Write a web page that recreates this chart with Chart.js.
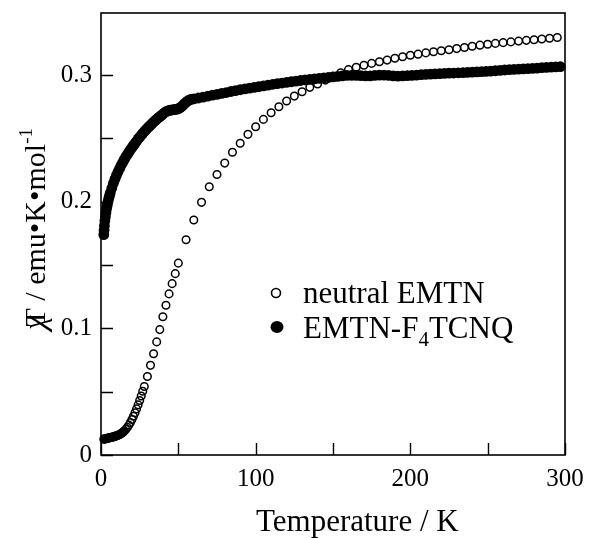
<!DOCTYPE html>
<html>
<head>
<meta charset="utf-8">
<script src="https://cdn.jsdelivr.net/npm/chart.js@4/dist/chart.umd.min.js"></script>
<style>
  html, body { margin: 0; padding: 0; background: #fff; }
  #wrap { width: 589px; height: 538px; }
</style>
</head>
<body>
<div id="wrap"><canvas id="c" width="589" height="538"></canvas></div>
<script>
// Temperature dependence of chi*T for neutral EMTN and its F4TCNQ complex

const seriesNames = ['neutral EMTN', 'EMTN-F4TCNQ'];

// neutral EMTN: temperature (K)
const neutralT = [
  1.8, 2.2, 2.6, 3, 3.5, 4, 4.5, 5, 5.5, 6, 6.5, 7, 7.5, 8, 8.5, 9, 9.5, 10,
  10.5, 11, 11.5, 12, 12.5, 13, 13.5, 14, 14.5, 15, 16, 17, 18, 19, 20, 21, 22,
  23, 24, 25, 26, 27, 28, 30, 32, 34, 36, 38, 40, 42, 44, 46, 48, 50,
  55, 60, 65, 70, 75, 80, 85, 90, 95, 100, 105, 110, 115, 120, 125, 130, 135,
  140, 145, 150, 155, 160, 165, 170, 175, 180, 185, 190, 195, 200, 205, 210,
  215, 220, 225, 230, 235, 240, 245, 250, 255, 260, 265, 270, 275, 280, 285,
  290, 295
];
// neutral EMTN: chi*T (emu K mol^-1)
const neutralChiT = [
  0.0125, 0.0126, 0.0127, 0.0128, 0.0130, 0.0131, 0.0133, 0.0134, 0.0136, 0.0137,
  0.0139, 0.0140, 0.0142, 0.0143, 0.0145, 0.0147, 0.0149, 0.0151, 0.0153, 0.0156,
  0.0159, 0.0162, 0.0165, 0.0169, 0.0173, 0.0178, 0.0183, 0.0189, 0.0202, 0.0218,
  0.0236, 0.0257, 0.0280, 0.0306, 0.0334, 0.0364, 0.0396, 0.0430, 0.0466, 0.0503,
  0.0541, 0.0620, 0.0708, 0.0800, 0.0893, 0.0990, 0.1092, 0.1182, 0.1272, 0.1353,
  0.1432, 0.1515,
  0.1700, 0.1855, 0.1995, 0.2118, 0.2215, 0.2305, 0.2390, 0.2462, 0.2532, 0.2592,
  0.2650, 0.2702, 0.2750, 0.2795, 0.2834, 0.2868, 0.2903, 0.2930, 0.2960, 0.2990,
  0.3018, 0.3043, 0.3062, 0.3078, 0.3092, 0.3105, 0.3118, 0.3133, 0.3145, 0.3156,
  0.3165, 0.3175, 0.3184, 0.3192, 0.3200, 0.3209, 0.3218, 0.3227, 0.3236, 0.3243,
  0.3250, 0.3256, 0.3262, 0.3268, 0.3274, 0.3279, 0.3285, 0.3291, 0.3297
];

// EMTN-F4TCNQ: temperature (K)
const saltT = [
  1.8, 2.0, 2.2, 2.5, 2.8, 3.2, 3.6, 4.0, 4.5, 5, 5.5, 6, 7, 8, 9, 10, 11, 12,
  13, 14, 15, 16, 17, 18, 19, 20, 21, 22, 23, 24, 25, 26, 27, 28, 29, 30, 31,
  32, 33, 34, 35, 36, 37, 38, 39, 40, 41, 42, 43, 44, 45, 46, 47, 48, 49, 50,
  51, 52, 53, 54, 55, 56, 57, 58,
  60, 63, 66, 69, 72, 75, 78, 81, 84, 87, 90, 93, 96, 99, 102, 105, 108, 111,
  114, 117, 120, 123, 126, 129, 132, 135, 138, 141, 144, 147, 150, 153, 156,
  159, 162, 165, 168, 171, 174, 177, 180, 183, 186, 189, 192, 195, 198, 201,
  204, 207, 210, 213, 216, 219, 222, 225, 228, 231, 234, 237, 240, 243, 246,
  249, 252, 255, 258, 261, 264, 267, 270, 273, 276, 279, 282, 285, 288, 291,
  294, 297
];
// EMTN-F4TCNQ: chi*T (emu K mol^-1)
const saltChiT = [
  0.1740, 0.1775, 0.1810, 0.1850, 0.1880, 0.1915, 0.1945, 0.1970, 0.2000, 0.2025,
  0.2048, 0.2070, 0.2108, 0.2145, 0.2178, 0.2208, 0.2236, 0.2262, 0.2287, 0.2310,
  0.2332, 0.2353, 0.2373, 0.2392, 0.2410, 0.2428, 0.2445, 0.2461, 0.2477, 0.2495,
  0.2510, 0.2525, 0.2540, 0.2554, 0.2567, 0.2580, 0.2593, 0.2605, 0.2617, 0.2629,
  0.2640, 0.2651, 0.2662, 0.2672, 0.2682, 0.2692, 0.2702, 0.2711, 0.2716, 0.2720,
  0.2723, 0.2725, 0.2727, 0.2729, 0.2731, 0.2734, 0.2740, 0.2750, 0.2762, 0.2774,
  0.2785, 0.2795, 0.2802, 0.2807,
  0.2812, 0.2819, 0.2826, 0.2833, 0.2841, 0.2848, 0.2855, 0.2862, 0.2870, 0.2877,
  0.2884, 0.2891, 0.2897, 0.2903, 0.2909, 0.2915, 0.2921, 0.2927, 0.2932, 0.2937,
  0.2942, 0.2947, 0.2952, 0.2957, 0.2962, 0.2966, 0.2970, 0.2974, 0.2978, 0.2982,
  0.2986, 0.2990, 0.2994, 0.2997, 0.2998, 0.2997, 0.2995, 0.2993, 0.2994, 0.2997,
  0.3000, 0.3000, 0.2997, 0.2994, 0.2992, 0.2993, 0.2995, 0.2997, 0.3000, 0.3003,
  0.3005, 0.3007, 0.3009, 0.3011, 0.3013, 0.3015, 0.3016, 0.3018, 0.3019, 0.3021,
  0.3023, 0.3025, 0.3027, 0.3029, 0.3031, 0.3034, 0.3037, 0.3040, 0.3043, 0.3045,
  0.3047, 0.3049, 0.3051, 0.3053, 0.3055, 0.3058, 0.3060, 0.3062, 0.3064, 0.3066
];

// axis ticks (inward marks) and labelled values
const xTickMarks = [0, 50, 100, 150, 200, 250, 300];
const xTickLabels = [0, 100, 200, 300];
const yTickMarks = [0, 0.05, 0.1, 0.15, 0.2, 0.25, 0.3];
const yTickLabels = [0, 0.1, 0.2, 0.3];

const SERIF = '"Liberation Serif", "Times New Roman", serif';

function toPoints(xs, ys) { return xs.map((x, i) => ({ x: x, y: ys[i] })); }

// Frame, inward ticks, axis titles and the in-plot legend
const decorations = {
  id: 'decorations',
  afterDraw(chart) {
    const ctx = chart.ctx;
    const a = chart.chartArea;
    const xs = chart.scales.x, ys = chart.scales.y;
    ctx.save();
    ctx.strokeStyle = '#000';
    ctx.lineWidth = 1.6;
    ctx.strokeRect(a.left, a.top, a.right - a.left, a.bottom - a.top);

    ctx.lineWidth = 1.4;
    ctx.beginPath();
    xTickMarks.forEach(v => {
      const px = Math.round(xs.getPixelForValue(v)) + 0.5;
      ctx.moveTo(px, a.bottom); ctx.lineTo(px, a.bottom - 12);
    });
    yTickMarks.forEach(v => {
      const py = Math.round(ys.getPixelForValue(v)) + 0.5;
      ctx.moveTo(a.left, py); ctx.lineTo(a.left + 12, py);
    });
    ctx.stroke();

    ctx.fillStyle = '#000';
    ctx.textBaseline = 'alphabetic';

    // x title
    ctx.font = '31px ' + SERIF;
    ctx.textAlign = 'left';
    ctx.fillText('Temperature / K', 256, 531);

    // y title (rotated): chi and T overlaid, then units with superscript
    ctx.save();
    ctx.translate(45, 330);
    ctx.rotate(-Math.PI / 2);
    ctx.font = 'italic 32px ' + SERIF;
    let x = 0;
    ctx.fillText('\u03C7', x, 0);
    const wChi = ctx.measureText('\u03C7').width;
    ctx.font = '30px ' + SERIF;
    ctx.fillText('T', x + wChi * 0.25, 0);
    x += wChi * 0.25 + ctx.measureText('T').width;
    const unit = ' / emu\u2022K\u2022mol';
    ctx.fillText(unit, x, 0);
    x += ctx.measureText(unit).width;
    ctx.font = '19px ' + SERIF;
    ctx.fillText('-1', x, -13);
    ctx.restore();

    // legend
    ctx.font = '31px ' + SERIF;
    ctx.textAlign = 'left';
    ctx.lineWidth = 1.6;
    ctx.beginPath();
    ctx.arc(276, 293, 4.5, 0, Math.PI * 2);
    ctx.stroke();
    ctx.fillText(seriesNames[0], 303, 303);

    ctx.beginPath();
    ctx.ellipse(277, 327, 6.5, 6, 0, 0, Math.PI * 2);
    ctx.fill();
    let lx = 303;
    ctx.fillText('EMTN-F', lx, 338);
    lx += ctx.measureText('EMTN-F').width;
    ctx.font = '21px ' + SERIF;
    ctx.fillText('4', lx, 346);
    lx += ctx.measureText('4').width;
    ctx.font = '31px ' + SERIF;
    ctx.fillText('TCNQ', lx, 338);
    ctx.restore();
  }
};

new Chart(document.getElementById('c'), {
  type: 'scatter',
  data: {
    datasets: [
      {
        label: seriesNames[1],
        data: toPoints(saltT, saltChiT),
        pointStyle: 'circle',
        pointRadius: 5.4,
        pointBackgroundColor: '#000',
        pointBorderColor: '#000',
        pointBorderWidth: 0,
        showLine: false,
        clip: false
      },
      {
        label: seriesNames[0],
        data: toPoints(neutralT, neutralChiT),
        pointStyle: 'circle',
        pointRadius: 3.8,
        pointBackgroundColor: 'rgba(0,0,0,0)',
        pointBorderColor: '#000',
        pointBorderWidth: 1.5,
        showLine: false,
        clip: false
      }
    ]
  },
  options: {
    responsive: false,
    animation: false,
    devicePixelRatio: 1,
    layout: { padding: { left: 0, right: 24, top: 13, bottom: 0 } },
    plugins: { legend: { display: false }, tooltip: { enabled: false } },
    scales: {
      x: {
        type: 'linear',
        min: 0, max: 300,
        afterFit(scale) {
          scale.height = 83;
          scale.paddingLeft = 0; scale.paddingRight = 0;
        },
        afterBuildTicks(scale) { scale.ticks = xTickLabels.map(v => ({ value: v })); },
        ticks: {
          color: '#000',
          font: { family: SERIF, size: 25 },
          padding: 9,
          maxRotation: 0,
          autoSkip: false,
          callback: v => String(v)
        },
        grid: { display: false, drawTicks: false },
        border: { display: false }
      },
      y: {
        type: 'linear',
        min: 0, max: 0.349,
        afterFit(scale) {
          scale.width = 101;
          scale.paddingTop = 0; scale.paddingBottom = 0;
        },
        afterBuildTicks(scale) { scale.ticks = yTickLabels.map(v => ({ value: v })); },
        ticks: {
          color: '#000',
          font: { family: SERIF, size: 25 },
          padding: 9,
          autoSkip: false,
          callback: v => (v === 0 ? '0' : v.toFixed(1))
        },
        grid: { display: false, drawTicks: false },
        border: { display: false }
      }
    }
  },
  plugins: [decorations]
});
</script>
</body>
</html>
